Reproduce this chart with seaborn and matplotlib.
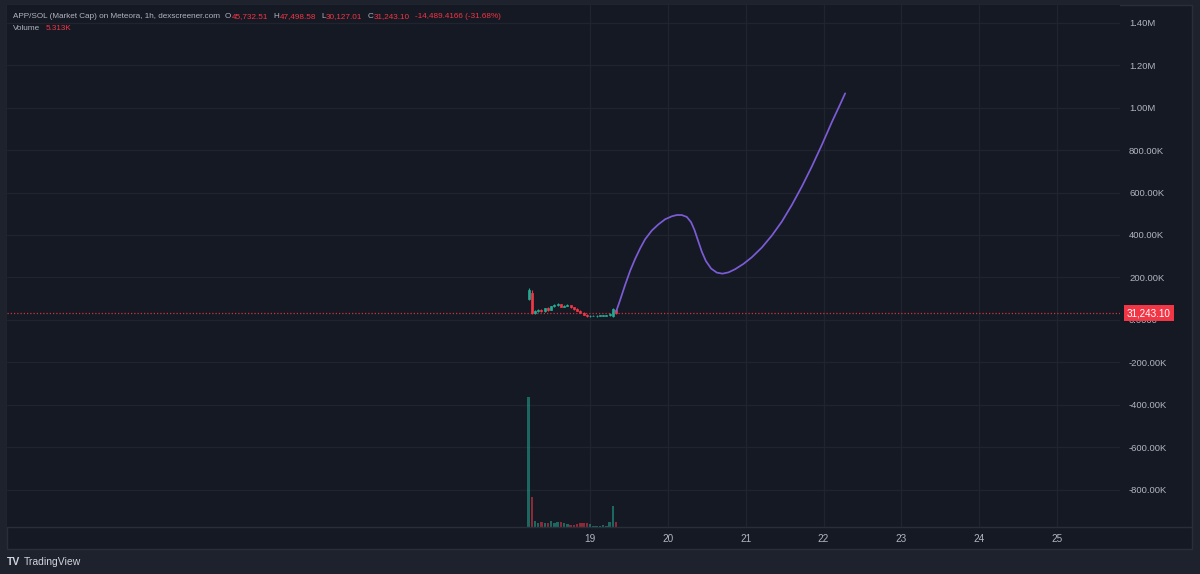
import numpy as np
import pandas as pd
import matplotlib
matplotlib.use("Agg")
import matplotlib.pyplot as plt
import seaborn as sns
from matplotlib import font_manager
from matplotlib.patches import Rectangle
from matplotlib.lines import Line2D

# hourly candles, hour counted from the 18th 00:00, market cap in K
hours = list(range(5, 33))
opens = [100, 128, 35, 42, 48, 40, 55, 47, 65, 72, 74, 63, 68, 70,
         60, 52, 44, 35, 24, 17, 19, 18, 19, 20, 19, 22, 18, 45.73251]
closes = [140, 35, 42, 48, 40, 55, 47, 65, 72, 74, 63, 68, 70, 60,
          52, 44, 35, 24, 18, 19, 20, 20, 21, 21, 22, 30, 52, 31.2431]
highs = [152, 142, 46, 52, 52, 58, 60, 68, 76, 78, 77, 72, 73, 72,
         62, 55, 46, 37, 26, 21, 22, 21, 23, 24, 24, 34, 56, 47.49858]
lows = [95, 30, 30, 38, 36, 38, 44, 45, 60, 66, 60, 60, 64, 57,
        49, 41, 32, 21, 15, 15, 17, 16, 17, 18, 17, 20, 14, 30.12701]
volumes = [138, 32, 6, 4, 5, 4, 4, 6, 4, 5, 5, 4, 3, 2,
           2, 3, 4, 4, 4, 3, 1, 1, 1, 2, 1, 5, 22, 5.313]

# drawn projection line (day of month, market cap in M)
curve_day = [19.334, 19.386, 19.450, 19.514, 19.578, 19.643, 19.707, 19.793,
             19.878, 19.964, 20.050, 20.114, 20.178, 20.243, 20.298, 20.341,
             20.384, 20.435, 20.487, 20.555, 20.628, 20.701, 20.778, 20.864,
             20.971, 21.078, 21.207, 21.335, 21.464, 21.592, 21.721, 21.849,
             21.978, 22.106, 22.213, 22.278]
curve_mcap = [0.039, 0.094, 0.165, 0.231, 0.287, 0.337, 0.380, 0.421,
              0.450, 0.474, 0.488, 0.494, 0.494, 0.485, 0.460, 0.424,
              0.377, 0.322, 0.278, 0.242, 0.223, 0.218, 0.224, 0.239,
              0.264, 0.295, 0.341, 0.397, 0.463, 0.541, 0.628, 0.722,
              0.824, 0.931, 1.015, 1.067]

price_ticks = [-0.8, -0.6, -0.4, -0.2, 0.0, 0.2, 0.4, 0.6, 0.8, 1.0, 1.2, 1.4]
price_labels = ["-800.00K", "-600.00K", "-400.00K", "-200.00K", "0.0000",
                "200.00K", "400.00K", "600.00K", "800.00K", "1.00M", "1.20M", "1.40M"]
day_ticks = [19, 20, 21, 22, 23, 24, 25]
last_close = 31243.10

title = "APP/SOL (Market Cap) on Meteora, 1h, dexscreener.com"
ohlc_keys = ["O", "H", "L", "C"]
ohlc_vals = ["45,732.51", "47,498.58", "30,127.01", "31,243.10"]
change_txt = "-14,489.4166 (-31.68%)"
vol_txt = "5.313K"

OUTER = "#1e222c"
PANEL = "#151924"
GRID = "#20242f"
LINE = "#2a2e39"
TXT = "#b2b5be"
GREEN = "#22ab94"
RED = "#f23645"
PURPLE = "#7c5cd6"

W, H = 1200, 574

sns.set_theme(style="dark", rc={
    "axes.facecolor": PANEL, "figure.facecolor": OUTER,
    "grid.color": GRID, "axes.edgecolor": PANEL,
    "xtick.color": TXT, "ytick.color": TXT, "text.color": TXT})
plt.rcParams["font.family"] = ["Liberation Sans", "DejaVu Sans"]

installed = {f.name for f in font_manager.fontManager.ttflist}
hdr_font = "Liberation Sans Narrow" if "Liberation Sans Narrow" in installed else "Liberation Sans"

df = pd.DataFrame({"day": [18 + h / 24 for h in hours],
                   "open": np.array(opens) / 1000, "close": np.array(closes) / 1000,
                   "high": np.array(highs) / 1000, "low": np.array(lows) / 1000,
                   "vol": volumes})
df["up"] = df["close"] >= df["open"]
df["color"] = np.where(df["up"], GREEN, RED)

fig = plt.figure(figsize=(12, 5.74), dpi=100)
fig.patches.append(Rectangle((7 / W, 1 - 549 / H), (1192 - 7) / W, (549 - 5) / H,
                             transform=fig.transFigure, facecolor=PANEL,
                             edgecolor=LINE, lw=1, zorder=-1))
fig.lines.append(Line2D([7 / W, 1192 / W], [1 - 527 / H, 1 - 527 / H],
                        transform=fig.transFigure, color=LINE, lw=1))

ax = fig.add_axes([7 / W, 1 - 527 / H, (1120 - 7) / W, (527 - 5) / H])
ax.set_xlim(11.506, 25.81)
ax.set_ylim(-0.975, 1.483)
for s in ax.spines.values():
    s.set_visible(False)

# volume overlay
ax2 = ax.twinx()
ax2.set_ylim(0, 555)
ax2.bar(df["day"], df["vol"], width=0.75 / 24, color=df["color"], alpha=0.55, linewidth=0)
ax2.set_yticks([])
for s in ax2.spines.values():
    s.set_visible(False)

# candles
ax.vlines(df["day"], df["low"], df["high"], colors=df["color"], lw=0.8, zorder=3)
ax.bar(df["day"], (df["close"] - df["open"]).abs(),
       bottom=df[["open", "close"]].min(axis=1), width=0.62 / 24,
       color=df["color"], edgecolor=df["color"], linewidth=0.5, zorder=3)

# projection curve
sns.lineplot(x=curve_day, y=curve_mcap, ax=ax, color=PURPLE, lw=1.25,
             sort=False, estimator=None, zorder=4)

ax.axhline(last_close / 1e6, color=RED, lw=0.9, ls=(0, (1, 1.6)), alpha=0.85, zorder=2)

ax.set_xticks(day_ticks)
ax.set_xticklabels([str(d) for d in day_ticks], fontsize=7.2)
ax.set_yticks(price_ticks)
ax.set_yticklabels(price_labels, fontsize=6.8)
ax.yaxis.tick_right()
ax.tick_params(axis="y", length=0, pad=6.5)
ax.tick_params(axis="x", length=0, pad=5)
ax.grid(True, color=GRID, lw=0.9)
ax.set_xlabel("")
ax.set_ylabel("")

ax.annotate(f"{last_close:,.2f}", xy=(1, last_close / 1e6), xycoords=("axes fraction", "data"),
            xytext=(29, 0), textcoords="offset pixels", ha="center", va="center",
            fontsize=7.1, color="white", annotation_clip=False, zorder=10,
            bbox=dict(boxstyle="square,pad=0.3", fc=RED, ec="none"))

# header legend, laid out left to right
renderer = fig.canvas.get_renderer()
probe = fig.text(0, 0, title, fontsize=7, family=hdr_font)
hdr_size = 7 * 209 / probe.get_window_extent(renderer).width
probe.remove()


def put(x, y, s, color=TXT):
    t = fig.text(x / W, 1 - y / H, s, color=color, fontsize=hdr_size, family=hdr_font,
                 va="center", ha="left")
    return x + t.get_window_extent(renderer).width


x = put(13, 17, title)
for k, v in zip(ohlc_keys, ohlc_vals):
    x = put(x + 5, 17, k)
    x = put(x + 0.5, 17, v, RED)
put(x + 5, 17, change_txt, RED)
x = put(13, 29, "Volume")
put(x + 5, 29, vol_txt, RED)

fig.text(7 / W, 1 - 562 / H, "TV", color="#d1d4dc", fontsize=7.5, fontweight="bold", va="center")
fig.text(24 / W, 1 - 562 / H, "TradingView", color="#d1d4dc", fontsize=7.5, va="center")

fig.savefig("out.png", dpi=100, facecolor=OUTER)
